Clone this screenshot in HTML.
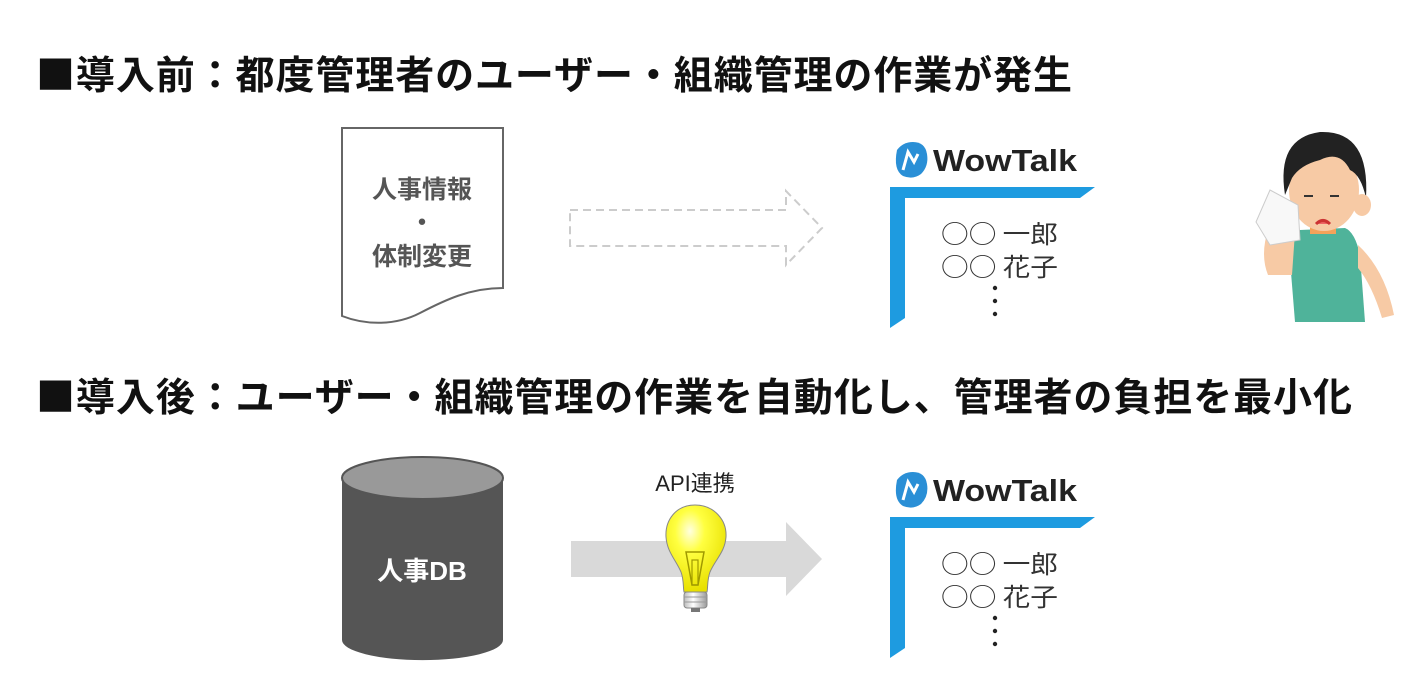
<!DOCTYPE html>
<html><head><meta charset="utf-8"><style>
html,body{margin:0;padding:0;background:#fff;}
svg{display:block;}
text{font-family:"Liberation Sans","Noto Sans CJK JP",sans-serif;}
.cjk{font-family:"Noto Sans CJK JP",sans-serif;}
</style></head><body>
<svg width="1408" height="688" viewBox="0 0 1408 688" xmlns="http://www.w3.org/2000/svg">
<defs>
<radialGradient id="bulb" cx="0.4" cy="0.3" r="0.7">
<stop offset="0" stop-color="#ffffe0"/><stop offset="0.35" stop-color="#ffff40"/><stop offset="1" stop-color="#e8e000"/>
</radialGradient>
<linearGradient id="base" x1="0" x2="1"><stop offset="0" stop-color="#bbb"/><stop offset="0.4" stop-color="#fff"/><stop offset="1" stop-color="#999"/></linearGradient>
</defs>
<text class="cjk" x="36" y="89" font-size="39" font-weight="bold" fill="#111" textLength="1036" lengthAdjust="spacing">■導入前：都度管理者のユーザー・組織管理の作業が発生</text>
<text class="cjk" x="36" y="411" font-size="39" font-weight="bold" fill="#111" textLength="1316" lengthAdjust="spacing">■導入後：ユーザー・組織管理の作業を自動化し、管理者の負担を最小化</text>

<path d="M342 128 H503 V288 C470 288 445 300 420 313 C395 326 365 325 342 316 Z" fill="#fff" stroke="#666" stroke-width="2"/>
<text class="cjk" x="422" y="198" font-size="25" font-weight="bold" fill="#555" text-anchor="middle">人事情報</text>
<text class="cjk" x="422" y="231" font-size="25" font-weight="bold" fill="#555" text-anchor="middle">・</text>
<text class="cjk" x="422" y="265" font-size="25" font-weight="bold" fill="#555" text-anchor="middle">体制変更</text>

<path d="M570 210 H786 V191 L822 228 L786 265 V246 H570 Z" fill="none" stroke="#ccc" stroke-width="2" stroke-dasharray="8,5"/>

<g>
<path d="M897 150 q6 -8 16 -8 q12 0 14 12 q2 12 -6 20 q-8 6 -18 2 q-10 -6 -6 -26z" fill="#2a8fd6"/>
<path d="M903 170 l5 -18 l6 10 l4 -8" stroke="#fff" stroke-width="3" fill="none"/>
<text x="933" y="171" font-size="31" font-weight="bold" fill="#222" textLength="144" lengthAdjust="spacingAndGlyphs">WowTalk</text>
<path d="M890 187 H1095 L1080 198 H905 V318 L890 328 Z" fill="#1e9be0"/>
<text class="cjk" x="941" y="243" font-size="25" fill="#333" textLength="117" lengthAdjust="spacingAndGlyphs">○○ 一郎</text>
<text class="cjk" x="941" y="276" font-size="25" fill="#333" textLength="117" lengthAdjust="spacingAndGlyphs">○○ 花子</text>
<circle cx="995" cy="288" r="2.2" fill="#222"/><circle cx="995" cy="301" r="2.2" fill="#222"/><circle cx="995" cy="314" r="2.2" fill="#222"/>
</g>
<g transform="translate(0,330)">
<path d="M897 150 q6 -8 16 -8 q12 0 14 12 q2 12 -6 20 q-8 6 -18 2 q-10 -6 -6 -26z" fill="#2a8fd6"/>
<path d="M903 170 l5 -18 l6 10 l4 -8" stroke="#fff" stroke-width="3" fill="none"/>
<text x="933" y="171" font-size="31" font-weight="bold" fill="#222" textLength="144" lengthAdjust="spacingAndGlyphs">WowTalk</text>
<path d="M890 187 H1095 L1080 198 H905 V318 L890 328 Z" fill="#1e9be0"/>
<text class="cjk" x="941" y="243" font-size="25" fill="#333" textLength="117" lengthAdjust="spacingAndGlyphs">○○ 一郎</text>
<text class="cjk" x="941" y="276" font-size="25" fill="#333" textLength="117" lengthAdjust="spacingAndGlyphs">○○ 花子</text>
<circle cx="995" cy="288" r="2.2" fill="#222"/><circle cx="995" cy="301" r="2.2" fill="#222"/><circle cx="995" cy="314" r="2.2" fill="#222"/>
</g>

<g>
<path d="M1300 230 Q1290 235 1290 260 L1295 322 H1365 L1360 255 Q1355 232 1345 228 Z" fill="#4fb39a"/>
<path d="M1358 245 Q1385 270 1394 315 L1382 318 Q1372 285 1358 268 Z" fill="#f7caa5"/>
<path d="M1268 230 Q1260 255 1268 275 L1292 275 L1295 232 Z" fill="#f7caa5"/>
<rect x="1310" y="222" width="26" height="12" fill="#f5a25a"/>
<ellipse cx="1324" cy="190" rx="35" ry="41" fill="#f7caa5"/>
<path d="M1285 195 Q1276 138 1320 132 Q1370 130 1366 198 Q1361 175 1350 170 Q1340 150 1320 160 Q1300 165 1292 178 Z" fill="#222"/>
<ellipse cx="1362" cy="205" rx="9" ry="11" fill="#f7caa5"/>
<path d="M1256 222 L1270 190 L1298 205 L1300 240 L1270 245 Z" fill="#f8f8f8" stroke="#ccc"/>
<path d="M1316 224 q7 -7 14 0" stroke="#c33" stroke-width="3" fill="#e66"/>
<path d="M1304 196 h9 M1330 196 h9" stroke="#333" stroke-width="2"/>
</g>

<path d="M342 478 V640 A80 20 0 0 0 503 640 V478 Z" fill="#555"/>
<ellipse cx="422.5" cy="478" rx="80.5" ry="21" fill="#999" stroke="#555" stroke-width="2"/>
<text x="422" y="580" font-size="26" font-weight="bold" fill="#fff" text-anchor="middle">人事DB</text>

<path d="M571 541 H786 V522 L822 559 L786 596 V577 H571 Z" fill="#d9d9d9"/>
<text x="695" y="491" font-size="22" fill="#222" text-anchor="middle">API連携</text>

<path d="M695 505 C676 505 665 520 666 537 C667 552 676 560 681 572 C684 580 683 588 684 592 H707 C708 588 707 580 710 572 C715 560 725 552 726 537 C727 520 714 505 695 505 Z" fill="url(#bulb)" stroke="#888" stroke-width="1"/>
<path d="M686 552 L704 552 L698 585 H692 Z" fill="none" stroke="#a09a00" stroke-width="1.5"/>
<rect x="692" y="560" width="6" height="25" fill="none" stroke="#a09a00" stroke-width="1.2"/>
<rect x="684" y="592" width="23" height="16" rx="3" fill="url(#base)" stroke="#888"/>
<path d="M684 597 H707 M684 602 H707" stroke="#999"/>
<rect x="691" y="608" width="9" height="4" fill="#777"/>
</svg>
</body></html>
